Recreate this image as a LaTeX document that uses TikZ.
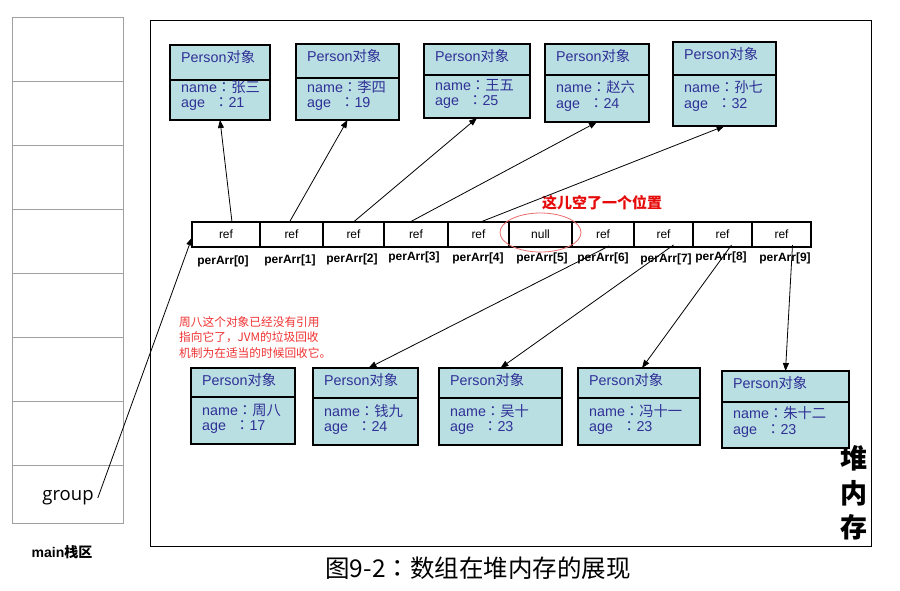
\documentclass[tikz,border=0pt]{standalone}
\usepackage{fontspec}
\setmainfont{Liberation Sans}
\newfontfamily\cjk{Noto Sans CJK SC}
\newfontfamily\cjkjp{Noto Sans CJK JP}
\newfontfamily\opens{Open Sans}
\usetikzlibrary{arrows.meta,calc,shapes.geometric}
\definecolor{boxfill}{RGB}{185,223,227}
\definecolor{boxtext}{RGB}{48,48,150}
\definecolor{notered}{RGB}{240,50,50}
\definecolor{titlered}{RGB}{230,10,10}
\definecolor{ellred}{RGB}{235,110,110}
\definecolor{stackgray}{RGB}{160,160,160}
\newcommand\fc{{\cjkjp ：}}
\tikzset{
  pcell/.style={draw=black, line width=1.2pt, fill=boxfill, inner sep=0pt, outer sep=0pt, anchor=north west},
  ptxt/.style={text=boxtext, font=\fontsize{14.3}{16}\selectfont, inner sep=0pt, anchor=base west},
  arr/.style={draw=black, line width=0.8pt, -{Triangle[length=8pt,width=6pt]}},
  acell/.style={draw=black, line width=1.2pt, minimum height=25pt, inner sep=0pt, outer sep=0pt, font=\fontsize{12}{14}\selectfont, anchor=north west},
  idx/.style={font=\bfseries\fontsize{12}{14}\selectfont, inner sep=0pt},
}
\newcommand\pbox[9]{%
  \node[pcell, minimum width={(#4-#2)*1pt}, minimum height={(#5-#3)*1pt}] (h#1) at (#2,#3) {};
  \node[pcell, minimum width={(#4-#2)*1pt}, minimum height={(#6-#5)*1pt}] (b#1) at (#2,#5) {};
  \node[ptxt] (ht#1) at ($(#2,#3)+(11,17.5)$) {Person{\cjk 对象}};
  \node[ptxt] (nt#1) at ($(#2,#7)+(11,4.5)$) {name\fc{\cjk #8}};
  \node[ptxt] (at#1) at ($(#2,#7)+(11,20)$) {\makebox[33pt][l]{age}\fc#9};
}
\begin{document}
\begin{tikzpicture}[x=1pt,y=-1pt]
\useasboundingbox (0,0) rectangle (900,590);
\fill[white] (0,0) rectangle (900,590);
% stack
\node[draw=stackgray, line width=0.8pt, minimum width=111pt, minimum height=506pt, anchor=north west, inner sep=0pt, outer sep=0pt] (stack) at (12,17) {};
\foreach \yy in {81,145,209,273,337,401,465}
  \draw[stackgray, line width=0.8pt] (stack.west |- 0,\yy) -- (stack.east |- 0,\yy);
\node[font=\opens\fontsize{18.5}{20}\selectfont, inner sep=1pt, anchor=base] (grp) at (68,500) {group};
\node[font=\bfseries\fontsize{14}{16}\selectfont, inner sep=0pt] (mainlbl) at (62,552) {main{\cjk\bfseries 栈区}};
% heap
\node[draw=black, line width=1pt, minimum width=721pt, minimum height=526pt, anchor=north west, inner sep=0pt, outer sep=0pt] (heap) at (150,20) {};
\node[font=\cjk\bfseries\fontsize{27}{34.5}\selectfont, align=center, inner sep=0pt] (heaplbl) at (854,493) {堆\\内\\存};
% array
\node[acell, minimum width=68pt] (c0) at (192,222) {ref};
\node[acell, minimum width=63pt] (c1) at (260,222) {ref};
\node[acell, minimum width=61pt] (c2) at (323,222) {ref};
\node[acell, minimum width=64pt] (c3) at (384,222) {ref};
\node[acell, minimum width=61pt] (c4) at (448,222) {ref};
\node[acell, minimum width=63pt] (c5) at (509,222) {null};
\node[acell, minimum width=62pt] (c6) at (572,222) {ref};
\node[acell, minimum width=59pt] (c7) at (634,222) {ref};
\node[acell, minimum width=59pt] (c8) at (693,222) {ref};
\node[acell, minimum width=59pt] (c9) at (752,222) {ref};
\node[idx] (i0) at (223,261) {perArr[0]};
\node[idx] (i1) at (290,260) {perArr[1]};
\node[idx] (i2) at (352,259) {perArr[2]};
\node[idx] (i3) at (414,257) {perArr[3]};
\node[idx] (i4) at (478,258) {perArr[4]};
\node[idx] (i5) at (542,258) {perArr[5]};
\node[idx] (i6) at (603,258) {perArr[6]};
\node[idx] (i7) at (666,259) {perArr[7]};
\node[idx] (i8) at (721,257) {perArr[8]};
\node[idx] (i9) at (785,258) {perArr[9]};
\node[draw=ellred, line width=0.8pt, ellipse, minimum width=81pt, minimum height=39pt, inner sep=0pt] (nullmark) at (540.5,232.5) {};
\node[font=\cjk\bfseries\fontsize{15}{17}\selectfont, text=titlered, inner sep=0pt] (emptynote) at (602,203) {这儿空了一个位置};
% top persons
\pbox{1}{170}{45}{270}{80}{120}{87.7}{张三}{21}
\pbox{2}{296}{44}{399}{78}{120}{87.7}{李四}{19}
\pbox{3}{424}{44}{530}{75}{118}{85.5}{王五}{25}
\pbox{4}{545}{44}{649}{75}{122}{88}{赵六}{24}
\pbox{5}{673}{42}{776}{75}{126}{88.3}{孙七}{32}
% bottom persons
\pbox{A}{191}{368}{295}{397}{444}{410.5}{周八}{17}
\pbox{B}{313}{368}{418}{398}{445}{411.5}{钱九}{24}
\pbox{C}{439}{368}{562}{398}{445}{411.5}{吴十}{23}
\pbox{D}{578}{368}{700}{398}{445}{411.5}{冯十一}{23}
\pbox{E}{722}{371}{849}{402}{448}{414}{朱十二}{23}
% red note
\node[font=\cjk\fontsize{11.7}{15.5}\selectfont, text=notered, align=left, anchor=north west, inner sep=0pt] (gcnote) at (179,316) {周八这个对象已经没有引用\\指向它了，JVM的垃圾回收\\机制为在适当的时候回收它。};
% arrows top
\draw[arr] ([xshift=6pt]c0.north) -- (b1.south);
\draw[arr] ([xshift=-2pt]c1.north) -- (b2.south);
\draw[arr] (c2.north) -- (b3.south);
\draw[arr] ([xshift=-6pt]c3.north) -- (b4.south);
\draw[arr] ([xshift=2pt]c4.north) -- (b5.south);
% arrows bottom
\draw[arr] ([xshift=6pt,yshift=1pt]c6.south) -- ([xshift=3pt]hB.north);
\draw[arr] ([xshift=10pt,yshift=2pt]c7.south) -- (hC.north);
\draw[arr] ([xshift=9pt,yshift=2pt]c8.south) -- ([xshift=3pt]hD.north);
\draw[arr] ([xshift=11pt,yshift=2pt]c9.south) -- (hE.north);
% group arrow
\draw[arr] ([xshift=3pt,yshift=2pt]grp.base east) -- ([yshift=-3pt]c0.west);
% caption
\node[font=\cjk\fontsize{24.5}{28}\selectfont, inner sep=0pt] (caption) at (478,568) {图9-2{\cjkjp ：}数组在堆内存的展现};
\end{tikzpicture}
\end{document}
